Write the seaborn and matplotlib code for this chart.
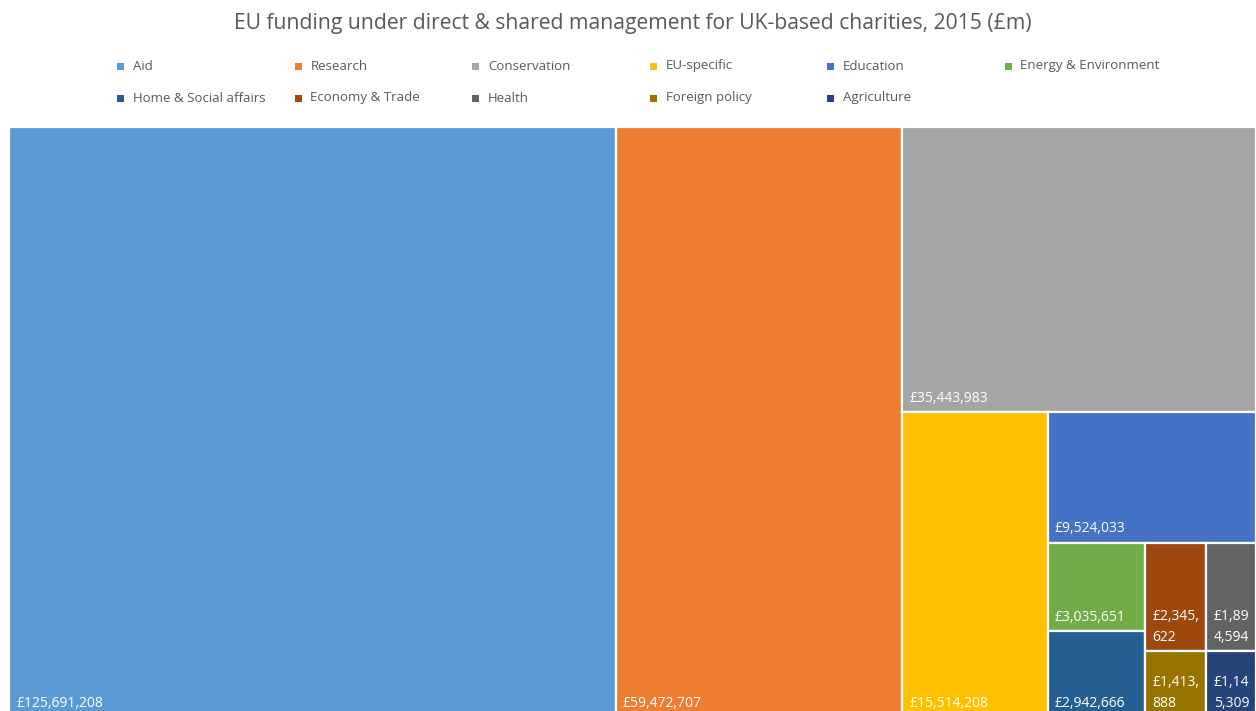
import matplotlib
matplotlib.use('Agg')
import matplotlib.pyplot as plt
from matplotlib.patches import Rectangle
import seaborn as sns

categories = ['Aid', 'Research', 'Conservation', 'EU-specific', 'Education',
              'Energy & Environment', 'Home & Social affairs', 'Economy & Trade',
              'Health', 'Foreign policy', 'Agriculture']
funding = [125691208, 59472707, 35443983, 15514208, 9524033,
           3035651, 2942666, 2345622, 1894594, 1413888, 1145309]
colours = ['#5B9BD5', '#ED7D31', '#A5A5A5', '#FFC000', '#4472C4', '#70AD47',
           '#255E91', '#9E480E', '#636363', '#997300', '#264478']

# how Excel nested the tiles: 'h' = side by side, 'v' = stacked (top first)
layout = ('h', [0, 1, ('v', [2, ('h', [3, ('v', [4, ('h', [('v', [5, 6]),
                                                             ('v', [7, 9]),
                                                             ('v', [8, 10])])])])])])


def total(node):
    if isinstance(node, int):
        return funding[node]
    return sum(total(c) for c in node[1])


def place(node, x, y, w, h, out):
    if isinstance(node, int):
        out[node] = (x, y, w, h)
        return
    kind, kids = node
    s = total(node)
    if kind == 'h':
        for c in kids:
            cw = w * total(c) / s
            place(c, x, y, cw, h, out)
            x += cw
    else:
        top = y + h
        for c in kids:
            ch = h * total(c) / s
            top -= ch
            place(c, x, top, w, ch, out)


rects = {}
place(layout, 0, 0, 1, 1, rects)

sns.set_theme(style='white')
plt.rcParams['font.family'] = ['Open Sans', 'DejaVu Sans']

fig = plt.figure(figsize=(12.56, 7.11), dpi=100)
ax_px = (1256 - 9, 717 - 127)
ax = fig.add_axes([9 / 1256, -6 / 711, ax_px[0] / 1256, ax_px[1] / 711])
ax.set_xlim(0, 1)
ax.set_ylim(0, 1)
ax.axis('off')

renderer = fig.canvas.get_renderer()
fs = 10
pad_px = 4


def wrap_label(txt, max_px):
    lines, cur = [], ''
    for ch in txt:
        t = fig.text(0, 0, cur + ch, fontsize=fs)
        wpx = t.get_window_extent(renderer).width
        t.remove()
        if wpx > max_px and cur:
            lines.append(cur)
            cur = ch
        else:
            cur += ch
    lines.append(cur)
    return '\n'.join(lines)


for i, name in enumerate(categories):
    x, y, w, h = rects[i]
    ax.add_patch(Rectangle((x, y), w, h, facecolor=colours[i],
                           edgecolor='white', linewidth=1.6))
    label = '£{:,}'.format(funding[i])
    label = wrap_label(label, w * ax_px[0] - 2 * pad_px)
    ax.annotate(label, xy=(x, y), xytext=(5.2, 4.6), textcoords='offset points',
                ha='left', va='bottom', fontsize=fs, color='white',
                linespacing=1.55)

fig.text(0.504, 1 - 23 / 711, 'EU funding under direct & shared management for '
         'UK-based charities, 2015 (£m)', ha='center', va='center',
         fontsize=15.2, color='#595959')

# legend, Excel-style even columns
for i, name in enumerate(categories):
    col, row = i % 6, i // 6
    lx = (117 + col * 177.5) / 1256
    ly = 1 - (66 + row * 32) / 711
    fig.patches.append(Rectangle((lx, ly - 3.5 / 711), 7 / 1256, 7 / 711,
                                 transform=fig.transFigure, facecolor=colours[i],
                                 edgecolor='none'))
    fig.text(lx + 16 / 1256, ly, name, ha='left', va='center',
             fontsize=9.5, color='#595959')

fig.savefig('out.png', dpi=100)
